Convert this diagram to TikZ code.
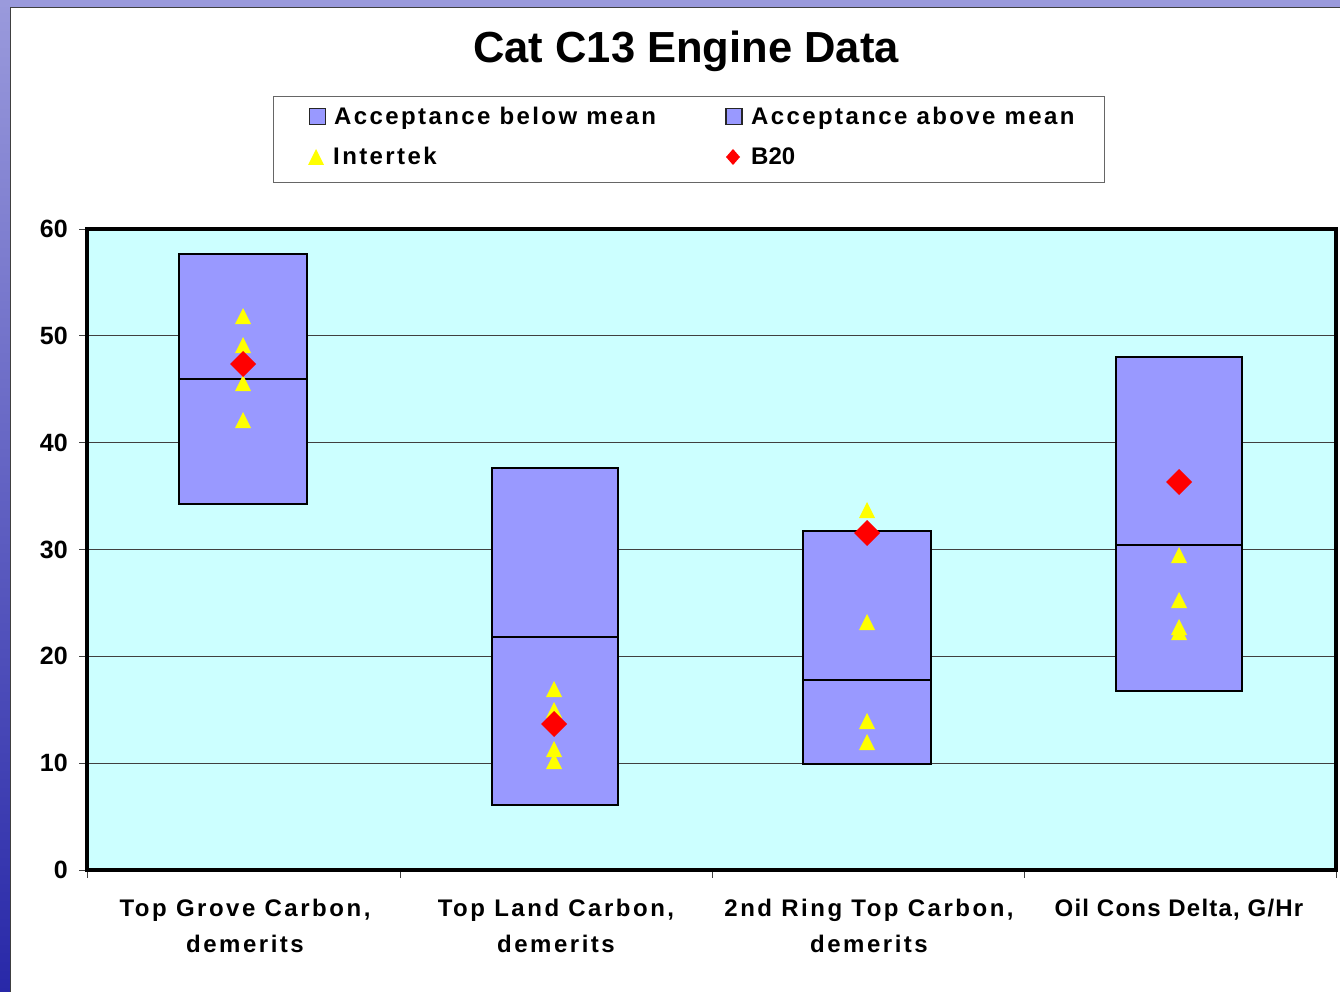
\documentclass[tikz,border=0pt]{standalone}
\usepackage{fontspec}
\setmainfont{Liberation Sans}
\newfontfamily\legfont[LetterSpace=10]{Liberation Sans}
\newfontfamily\catfont[LetterSpace=10.5]{Liberation Sans}
\newfontfamily\catfontb[LetterSpace=5]{Liberation Sans}
\definecolor{plotbg}{HTML}{CCFFFF}
\definecolor{boxc}{HTML}{9999FF}
\definecolor{triY}{HTML}{FFFF00}
\definecolor{diaR}{HTML}{FF0000}
\definecolor{gridc}{HTML}{404040}
\definecolor{bandtop}{HTML}{9A9ADC}
\definecolor{bandbot}{HTML}{2828A8}
\begin{document}
\begin{tikzpicture}[x=1pt,y=-1pt,
  boxst/.style={fill=boxc,draw=black,line width=2.5pt},
  midst/.style={draw=black,line width=2.5pt},
  gridst/.style={draw=gridc,line width=0.9pt},
  tickst/.style={draw=gridc,line width=1pt},
  ticklab/.style={anchor=east,inner sep=0pt,font=\fontsize{25}{25}\selectfont\bfseries},
  catlab/.style={align=center,inner sep=0pt,font=\fontsize{24}{36}\selectfont\bfseries\catfont},
  leglab/.style={anchor=base west,inner sep=0pt,font=\fontsize{24}{24}\selectfont\bfseries\legfont},
  tri/.pic={\fill[triY] (-8,8) -- (8,8) -- (0,-8) -- cycle;},
  dia/.pic={\fill[diaR] (0,-13) -- (13,0) -- (0,13) -- (-13,0) -- cycle;},
  legtri/.pic={\fill[triY] (-8,8) -- (8,8) -- (0,-8) -- cycle;},
  legdia/.pic={\fill[diaR] (0,-8) -- (7,0) -- (0,8) -- (-7,0) -- cycle;}
]
\useasboundingbox (0,0) rectangle (1340,992);
\fill[white] (0,0) rectangle (1340,992);
% frame bands
\shade[top color=bandtop,bottom color=bandbot] (0,0) rectangle (10,992);
\fill[bandtop] (0,0) rectangle (1340,7);
\draw[black!75,line width=1pt] (1340,7.5) -- (10,7.5) -- (10,992);

% title
\node[font=\fontsize{43.5}{44}\selectfont\bfseries] (title) at (686,51) {Cat C13 Engine Data};

% legend
\draw[gray!80!black,line width=1pt] (273,97) rectangle (1104,183);
\node[draw=black!85,line width=1.3pt,fill=boxc,minimum size=16pt,inner sep=0pt] (lsq1) at (317.5,116.5) {};
\node[leglab] (lt1) at (334,125) {Acceptance below mean};
\node[draw=black!85,line width=1.3pt,fill=boxc,minimum size=16pt,inner sep=0pt] (lsq2) at (734,116.5) {};
\node[leglab] (lt2) at (751,125) {Acceptance above mean};
\pic at (316,157) {legtri};
\node[leglab] (lt3) at (333,165) {Intertek};
\pic at (733,157) {legdia};
\node[leglab,font=\fontsize{24}{24}\selectfont\bfseries] (lt4) at (751,165) {B20};

% plot area
\fill[plotbg] (87,229) rectangle (1336,870);
\foreach \v in {10,20,30,40,50}{
  \draw[gridst] (87,{870-10.683*\v}) -- (1336,{870-10.683*\v});
}
\foreach \v in {0,10,20,30,40,50,60}{
  \draw[tickst] (79,{870-10.683*\v}) -- (87,{870-10.683*\v});
  \node[ticklab] (yl\v) at (68,{870-10.683*\v}) {\v};
}
\foreach \xx in {87,400,712,1024,1336}{
  \draw[tickst] (\xx,870) -- (\xx,878);
}

% boxes
\draw[boxst] (179,254) rectangle (307,504);
\draw[midst] (179,379) -- (307,379);
\draw[boxst] (492,468) rectangle (618,805);
\draw[midst] (492,637) -- (618,637);
\draw[boxst] (803,531) rectangle (931,764);
\draw[midst] (803,680) -- (931,680);
\draw[boxst] (1116,357) rectangle (1242,691);
\draw[midst] (1116,545) -- (1242,545);

% markers
\foreach \yy in {316,345,383,420}{\pic at (243,\yy) {tri};}
\pic at (243,364) {dia};
\foreach \yy in {689,710,749,761}{\pic at (554,\yy) {tri};}
\pic at (554,724) {dia};
\foreach \yy in {510,622,721,742}{\pic at (867,\yy) {tri};}
\pic at (867,533) {dia};
\foreach \yy in {555,600,627,632}{\pic at (1179,\yy) {tri};}
\pic at (1179,482) {dia};

% plot border
\draw[black,line width=4pt] (87,229) rectangle (1336,870);

% category labels
\node[catlab,anchor=north] (c1) at (245,899) {Top Grove Carbon,\\demerits};
\node[catlab,anchor=north] (c2) at (556,899) {Top Land Carbon,\\demerits};
\node[catlab,anchor=north] (c3) at (869,899) {2nd Ring Top Carbon,\\demerits};
\node[catlab,anchor=north,font=\fontsize{24}{36}\selectfont\bfseries\catfontb] (c4) at (1179,899) {Oil Cons Delta, G/Hr};
\end{tikzpicture}
\end{document}
